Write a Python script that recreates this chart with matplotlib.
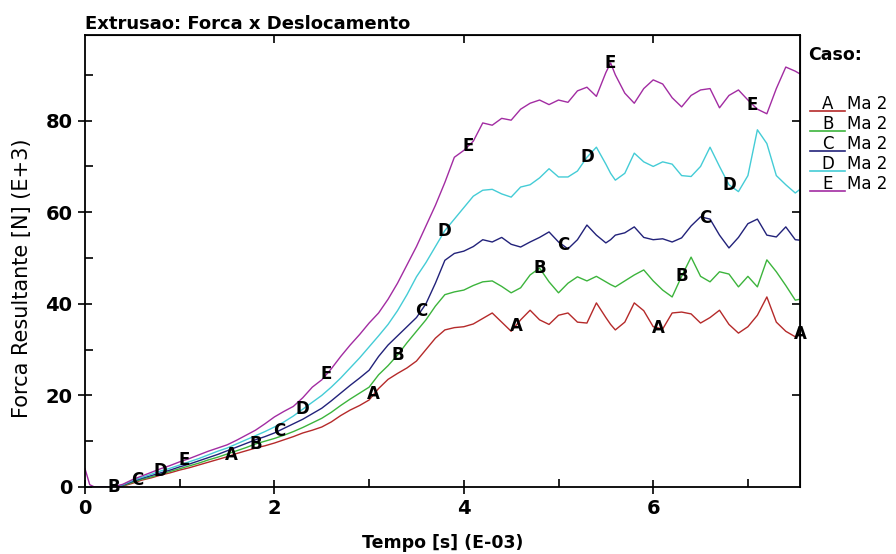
import numpy as np
import matplotlib
matplotlib.use('Agg')
import matplotlib.pyplot as plt
from matplotlib.lines import Line2D
from matplotlib.ticker import NullLocator

# Tempo [s] (E-03)
tempo = [0.0, 0.05, 0.1, 0.2, 0.3, 0.4, 0.5, 0.6, 0.7, 0.8,
         0.9, 1.0, 1.1, 1.2, 1.3, 1.4, 1.5, 1.6, 1.7, 1.8,
         1.9, 2.0, 2.1, 2.2, 2.3, 2.4, 2.5, 2.6, 2.7, 2.8,
         2.9, 3.0, 3.1, 3.2, 3.3, 3.4, 3.5, 3.6, 3.7, 3.8,
         3.9, 4.0, 4.1, 4.2, 4.3, 4.4, 4.5, 4.6, 4.7, 4.8,
         4.9, 5.0, 5.1, 5.2, 5.3, 5.4, 5.5, 5.55, 5.6, 5.7,
         5.8, 5.9, 6.0, 6.1, 6.2, 6.3, 6.4, 6.5, 6.6, 6.7,
         6.8, 6.9, 7.0, 7.1, 7.2, 7.3, 7.4, 7.5, 7.55]

# Forca Resultante [N] (E+3)
forca_a = [0, 0, 0, 0, 0, 0.2, 0.8, 1.5, 2.0, 2.6,
           3.1, 3.7, 4.2, 4.8, 5.4, 6.0, 6.6, 7.3, 7.9, 8.5,
           9.0, 9.6, 10.3, 11.0, 11.8, 12.4, 13.1, 14.2, 15.6, 16.8,
           17.8, 19.0, 21.5, 23.5, 24.8, 26.0, 27.5, 30.0, 32.5, 34.3,
           34.8, 35.0, 35.6, 36.8, 38.0, 36.0, 34.0, 36.5, 38.6, 36.5,
           35.5, 37.5, 38.0, 36.0, 35.8, 40.2, 37.0, 35.5, 34.3, 36.0,
           40.2, 38.5, 35.0, 34.5, 38.0, 38.2, 37.8, 35.8, 37.0, 38.6,
           35.5, 33.6, 35.0, 37.5, 41.5, 36.0, 34.0, 32.8, 33.5]

forca_b = [0, 0, 0, 0, 0, 0.3, 1.0, 1.7, 2.2, 2.8,
           3.4, 4.0, 4.6, 5.2, 5.9, 6.5, 7.2, 7.9, 8.6, 9.4,
           10.0, 10.6, 11.3, 12.1, 13.0, 14.0, 15.0, 16.3, 17.8, 19.2,
           20.5, 21.8, 24.5, 26.5, 28.8, 31.5, 34.0, 36.5, 39.5, 42.0,
           42.6, 43.0, 44.0, 44.8, 45.0, 43.8, 42.4, 43.5, 46.3, 47.8,
           44.8, 42.4, 44.5, 45.9, 45.0, 46.0, 44.8, 44.2, 43.7, 45.0,
           46.3, 47.4, 45.0, 43.0, 41.5, 46.0, 50.2, 46.0, 44.8, 47.0,
           46.5, 43.7, 46.0, 43.7, 49.6, 47.0, 44.0, 40.8, 41.0]

forca_c = [0, 0, 0, 0, 0, 0.4, 1.2, 1.9, 2.5, 3.1,
           3.7, 4.4, 5.0, 5.7, 6.4, 7.1, 7.9, 8.7, 9.5, 10.3,
           11.0, 11.8, 12.8, 13.8, 14.8, 16.0, 17.2, 18.8, 20.5, 22.2,
           23.8, 25.5, 28.5, 31.0, 33.0, 35.0, 37.0, 40.0, 44.5, 49.5,
           51.0, 51.5, 52.5, 54.0, 53.5, 54.5, 53.0, 52.4, 53.5, 54.5,
           55.7, 53.5, 52.0, 54.0, 57.2, 55.0, 53.3, 54.0, 55.0, 55.5,
           56.8, 54.5, 54.0, 54.2, 53.5, 54.4, 57.0, 59.0, 58.5, 55.0,
           52.2, 54.5, 57.5, 58.5, 55.0, 54.6, 56.8, 54.0, 53.9]

forca_d = [0, 0, 0, 0, 0, 0.5, 1.4, 2.1, 2.8, 3.5,
           4.1, 4.8, 5.5, 6.2, 7.0, 7.8, 8.5, 9.4, 10.3, 11.2,
           12.1, 13.1, 14.2, 15.5, 17.0, 18.5, 20.0, 21.8, 23.8, 26.0,
           28.2, 30.6, 33.0, 35.5, 38.5, 42.0, 45.9, 49.0, 52.5, 56.0,
           58.5, 61.0, 63.5, 64.8, 65.0, 64.0, 63.3, 65.5, 66.0, 67.5,
           69.5, 67.7, 67.7, 69.0, 72.0, 74.2, 70.5, 68.5, 67.0, 68.5,
           72.9, 71.0, 70.0, 71.0, 70.5, 68.0, 67.8, 70.0, 74.2, 70.0,
           66.0, 64.5, 68.0, 78.0, 75.0, 68.0, 66.0, 64.2, 65.0]

forca_e = [4.0, 0.5, 0, 0, 0, 0.6, 1.6, 2.4, 3.2, 4.0,
           4.7, 5.5, 6.2, 7.0, 7.8, 8.5, 9.2, 10.2, 11.3, 12.4,
           13.8, 15.3, 16.5, 17.6, 19.5, 21.8, 23.4, 25.8, 28.5, 31.0,
           33.3, 35.8, 38.0, 41.0, 44.5, 48.5, 52.5, 57.0, 61.5, 66.5,
           72.0, 73.5, 75.5, 79.5, 79.0, 80.5, 80.1, 82.5, 83.8, 84.5,
           83.5, 84.5, 84.0, 86.5, 87.3, 85.3, 90.5, 92.6, 90.0, 86.0,
           83.8, 87.0, 88.9, 88.0, 85.0, 83.0, 85.5, 86.7, 87.0, 82.8,
           85.5, 86.7, 84.5, 82.5, 81.5, 87.0, 91.7, 90.8, 90.2]

casos = ['A', 'B', 'C', 'D', 'E']
legenda = ['Ma 2', 'Ma 2', 'Ma 2', 'Ma 2', 'Ma 2']
series = [forca_a, forca_b, forca_c, forca_d, forca_e]
cores = ['#b52a2a', '#3cb43c', '#22227a', '#44ccd6', '#a22ca2']
# where the case letters sit along each curve
pos_letras = [[1.55, 3.05, 4.55, 6.05, 7.55],
              [0.3, 1.8, 3.3, 4.8, 6.3],
              [0.55, 2.05, 3.55, 5.05, 6.55],
              [0.8, 2.3, 3.8, 5.3, 6.8],
              [1.05, 2.55, 4.05, 5.55, 7.05]]

cond = ['DejaVu Sans Condensed', 'DejaVu Sans']
plt.rcParams['font.family'] = cond
plt.rcParams['font.weight'] = 'bold'

fig = plt.figure(figsize=(8.96, 5.54), dpi=100)
ax = fig.add_axes([85 / 896, 1 - 487 / 554, 715 / 896, 452 / 554])

for caso, forca, cor, xs in zip(casos, series, cores, pos_letras):
    ax.plot(tempo, forca, color=cor, lw=1.0)
    for xl in xs:
        yl = np.interp(xl, tempo, forca)
        ax.text(xl, yl, caso, fontsize=12, fontweight='bold', color='black',
                ha='center', va='center', clip_on=False)

ax.set_xlim(0, 7.55)
ax.set_ylim(0, 98.7)
ax.set_xticks([0, 2, 4, 6])
ax.set_xticks([1, 3, 5, 7], minor=True)
ax.set_yticks([0, 20, 40, 60, 80])
ax.set_yticks([10, 30, 50, 70, 90], minor=True)
ax.tick_params(which='major', direction='inout', length=10, width=1.2,
               labelsize=14, pad=4)
ax.tick_params(which='minor', direction='in', length=6, width=1.2)
for lab in ax.get_xticklabels() + ax.get_yticklabels():
    lab.set_fontweight('bold')
for sp in ax.spines.values():
    sp.set_linewidth(1.3)

# inward ticks on the top and right frame
topo = ax.secondary_xaxis('top')
topo.set_xticks([2, 4, 6])
topo.xaxis.set_minor_locator(NullLocator())
topo.tick_params(direction='in', length=6, width=1.2, labeltop=False)
direita = ax.secondary_yaxis('right')
direita.set_yticks([20, 40, 60, 80])
direita.yaxis.set_minor_locator(NullLocator())
direita.tick_params(direction='in', length=6, width=1.2, labelright=False)

ax.set_title('Extrusao: Forca x Deslocamento', loc='left', fontsize=13,
             fontweight='bold', pad=4)
ax.set_xlabel('Tempo [s] (E-03)', fontsize=12.5, fontweight='bold', labelpad=11)
fig.text(22 / 896, 1 - 278 / 554, 'Forca Resultante [N] (E+3)', rotation=90,
         fontsize=15, fontweight='normal', family=['DejaVu Sans'],
         ha='center', va='center')

# legend on the right
fig.text(808 / 896, 1 - 55 / 554, 'Caso:', fontsize=12.5, fontweight='bold',
         ha='left', va='center')
for i, (caso, nome, cor) in enumerate(zip(casos, legenda, cores)):
    yc = 104 + 20 * i
    fig.add_artist(Line2D([810 / 896, 845 / 896], [1 - (yc + 7) / 554] * 2,
                          color=cor, lw=1.2, transform=fig.transFigure))
    fig.text(828 / 896, 1 - yc / 554, caso, fontsize=12, fontweight='normal',
             family=['DejaVu Sans'], ha='center', va='center')
    fig.text(847 / 896, 1 - yc / 554, nome, fontsize=12, fontweight='normal',
             family=['DejaVu Sans'], ha='left', va='center')

fig.savefig('out.png', dpi=100)
